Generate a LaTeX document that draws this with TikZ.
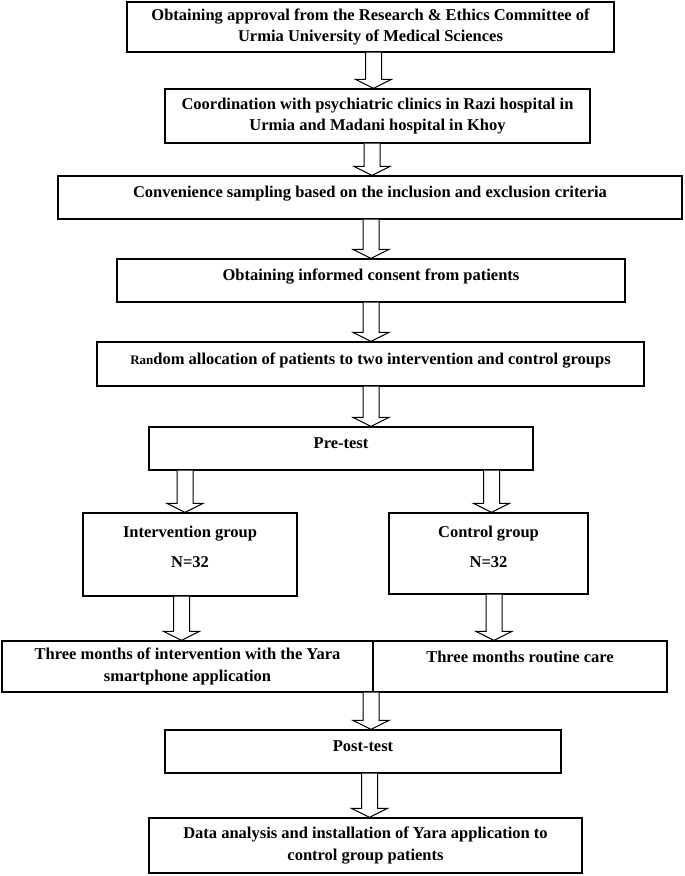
\documentclass[tikz,border=0pt]{standalone}
\usepackage{fontspec}
\setmainfont{Liberation Serif}
\usetikzlibrary{calc}
\tikzset{
  box/.style={draw, line width=1.3pt, rectangle, inner sep=0pt, align=center,
    font=\fontsize{16.5}{21.5}\selectfont\bfseries},
  one/.style={text height=11pt, text depth=11pt},
  txt/.style={inner sep=0pt, align=center, font=\fontsize{16.5}{21.5}\selectfont\bfseries},
  barr/.style={draw, line width=1pt, fill=white, line join=miter}
}
\newcommand{\blockarrow}[3]{%
  \coordinate (ax) at (#3,0);
  \coordinate (as) at (#1.south -| ax);
  \coordinate (at) at (#2.north -| ax);
  \draw[barr] ($(as)+(-8,0)$) -- ($(at)+(-8,9)$) -- ($(at)+(-18,9)$) -- (at)
     -- ($(at)+(18,9)$) -- ($(at)+(8,9)$) -- ($(as)+(8,0)$);
}
\begin{document}
\begin{tikzpicture}[x=1pt,y=1pt]
\useasboundingbox (0,0) rectangle (685,-876);
\node[box, minimum width=487pt, minimum height=50pt] (b1) at (370.5,-27)
  {Obtaining approval from the Research \& Ethics Committee of\\Urmia University of Medical Sciences};
\node[box, minimum width=425pt, minimum height=54pt] (b2) at (377.5,-116)
  {Coordination with psychiatric clinics in Razi hospital in\\Urmia and Madani hospital in Khoy};
\node[box, one, minimum width=624pt, minimum height=43pt] (b3) at (370,-197.5)
  {Convenience sampling based on the inclusion and exclusion criteria};
\node[box, one, minimum width=508pt, minimum height=43pt] (b4) at (371,-280.5)
  {Obtaining informed consent from patients};
\node[box, one, minimum width=547pt, minimum height=44pt] (b5) at (370.5,-364)
  {{\fontsize{13}{15}\selectfont Ran}dom allocation of patients to two intervention and control groups};
\node[box, one, minimum width=384pt, minimum height=43pt] (b6) at (341,-448.5)
  {Pre-test};
\node[box, minimum width=214pt, minimum height=83pt] (int) at (190,-554.5) {};
\node[txt] (intT) at (190,-547) {Intervention group\\[9pt]N=32};
\node[box, minimum width=199pt, minimum height=81pt] (ctl) at (488.5,-553.5) {};
\node[txt] (ctlT) at (488.5,-547) {Control group\\[9pt]N=32};
\node[box, minimum width=371pt, minimum height=51pt] (tl) at (187.5,-666.5)
  {Three months of intervention with the Yara\\smartphone application};
\node[box, minimum width=294pt, minimum height=51pt] (tr) at (520,-666.5) {};
\node[txt] (trT) at (520,-657) {Three months routine care};
\node[box, one, minimum width=396pt, minimum height=43pt] (post) at (363,-751.5)
  {Post-test};
\node[box, minimum width=433pt, minimum height=55pt] (data) at (365.5,-845.5)
  {Data analysis and installation of Yara application to\\control group patients};
\blockarrow{b1}{b2}{373.5}
\blockarrow{b2}{b3}{372}
\blockarrow{b3}{b4}{371}
\blockarrow{b4}{b5}{371}
\blockarrow{b5}{b6}{371}
\blockarrow{b6}{int}{185}
\blockarrow{b6}{ctl}{491.5}
\blockarrow{int}{tl}{181.5}
\blockarrow{ctl}{tr}{494}
\blockarrow{tl}{post}{371}
\blockarrow{post}{data}{369.5}
\end{tikzpicture}
\end{document}
